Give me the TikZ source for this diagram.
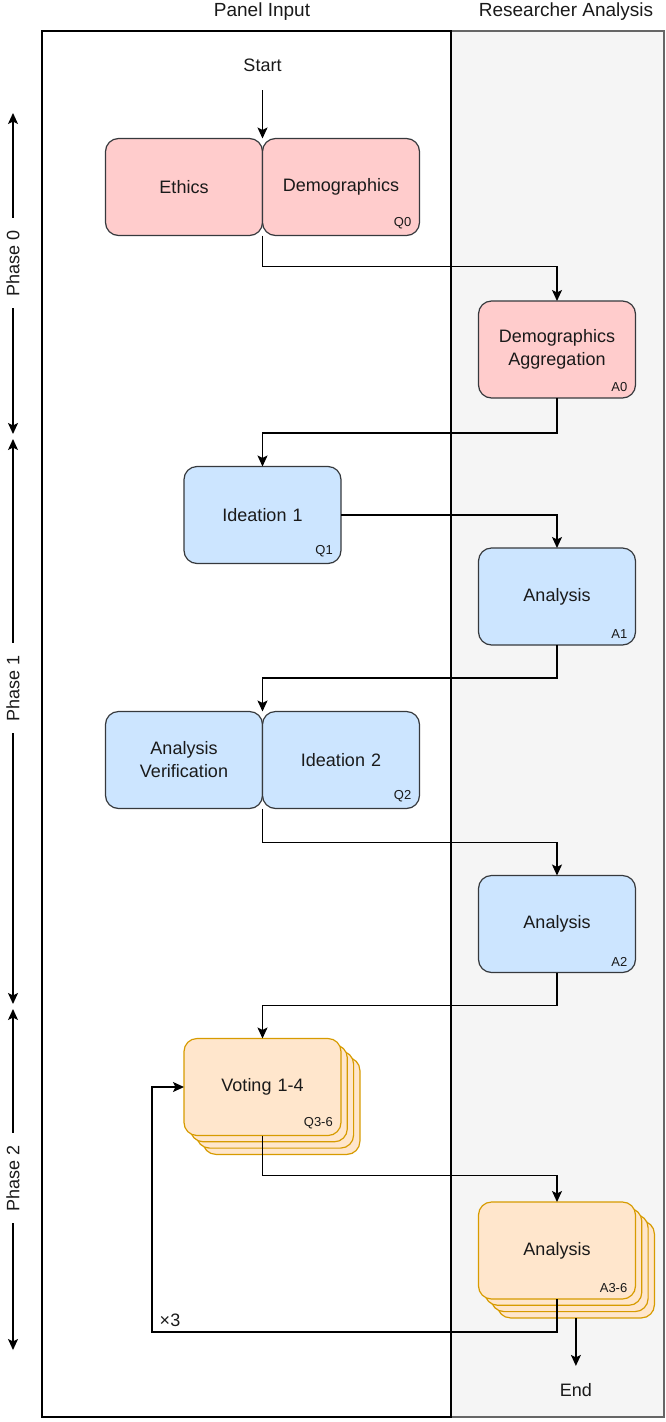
\documentclass[tikz,border=0pt]{standalone}
\usepackage{fontspec}
\setmainfont{Liberation Sans}
\usepackage{xcolor}
\usepackage{tikz}
\usetikzlibrary{arrows.meta,calc,positioning}

\definecolor{pinkfill}{HTML}{FFCCCC}
\definecolor{bluefill}{HTML}{CCE5FF}
\definecolor{orangefill}{HTML}{FFE6CC}
\definecolor{orangeline}{HTML}{D79B00}
\definecolor{boxline}{HTML}{36393D}
\definecolor{lanefill}{HTML}{F5F5F5}
\definecolor{laneline}{HTML}{666666}
\definecolor{txt}{HTML}{1A1A1A}

\begin{document}
\begin{tikzpicture}[x=1pt, y=-1pt, node distance=0pt,
    >={Stealth[length=11pt,width=10pt,inset=2.5pt]},
    every node/.style={font=\fontsize{18}{23}\selectfont, text=txt},
    box/.style={rectangle, draw=boxline, line width=1.2pt, rounded corners=13pt, minimum width=157pt, minimum height=97pt, text width=150pt, align=center, inner sep=0pt, outer sep=0pt},
    pinkbox/.style={box, fill=pinkfill},
    bluebox/.style={box, fill=bluefill},
    orangebox/.style={box, draw=orangeline, fill=orangefill},
    tag/.style={font=\fontsize{13}{15}\selectfont, inner sep=0pt, anchor=south east},
    link/.style={->, line width=1.4pt},
    phase/.style={rotate=90, inner sep=12pt},
    head/.style={font=\fontsize{19}{23}\selectfont}]
    \useasboundingbox (0,0) rectangle (666,1422);

    \draw[fill=lanefill, draw=laneline, line width=1.5pt] (451,31) rectangle (664,1417);
    \draw[line width=1.5pt] (42,31) rectangle (451,1417);
    \node[head] (hpanel) at (262,12) {Panel Input};
    \node[head] (hresearch) at (566,12) {Researcher Analysis};

    \node[minimum height=50pt, inner sep=0pt] (start) at (262.5,65) {Start};
    \node[pinkbox] (ethics) at (184,187) {Ethics};
    \node[pinkbox, right=0pt of ethics] (demo) {Demographics};
    \node[tag] (q0) at ($(demo.south east)+(-8,-6)$) {Q0};
    \node[pinkbox] (aggr) at (557,349.5) {Demographics\\Aggregation};
    \node[tag] (a0) at ($(aggr.south east)+(-8,-6)$) {A0};

    \node[bluebox] (idea1) at (262.5,515) {Ideation 1};
    \node[tag] (q1) at ($(idea1.south east)+(-8,-6)$) {Q1};
    \node[bluebox] (ana1) at (557,596.5) {Analysis};
    \node[tag] (a1) at ($(ana1.south east)+(-8,-6)$) {A1};
    \node[bluebox] (verif) at (184,760) {Analysis\\Verification};
    \node[bluebox, right=0pt of verif] (idea2) {Ideation 2};
    \node[tag] (q2) at ($(idea2.south east)+(-8,-6)$) {Q2};
    \node[bluebox] (ana2) at (557,924) {Analysis};
    \node[tag] (a2) at ($(ana2.south east)+(-8,-6)$) {A2};

    \foreach \k in {3,2,1}
        \node[orangebox] (vote\k) at (262.5+6.3*\k,1087+6.3*\k) {};
    \node[orangebox] (vote) at (262.5,1087) {Voting 1-4};
    \node[tag] (q3) at ($(vote.south east)+(-8,-6)$) {Q3-6};
    \foreach \k in {3,2,1}
        \node[orangebox] (ana3c\k) at (557+6.3*\k,1250.5+6.3*\k) {};
    \node[orangebox] (ana3) at (557,1250.5) {Analysis};
    \node[tag] (a3) at ($(ana3.south east)+(-8,-6)$) {A3-6};
    \node[below=48pt of ana3c3.south, minimum height=48pt, inner sep=0pt] (end) {End};

    \node[phase] (ph0) at (13,263) {Phase 0};
    \node[phase] (ph1) at (13,688) {Phase 1};
    \node[phase] (ph2) at (13,1178) {Phase 2};
    \coordinate (ph0a) at (13,113);
    \coordinate (ph0b) at (13,434);
    \coordinate (ph1a) at (13,439);
    \coordinate (ph1b) at (13,1004);
    \coordinate (ph2a) at (13,1009);
    \coordinate (ph2b) at (13,1350);
    \coordinate (loop) at (152,1332);

    \draw[link] (start) -- (ethics.north east);
    \draw[link] (ethics.south east) -- ++(0,31) -| (aggr);
    \draw[link] (aggr.south) -- ++(0,35) -| (idea1);
    \draw[link] (idea1) -| (ana1);
    \draw[link] (ana1.south) -- ++(0,33) -| (verif.north east);
    \draw[link] (verif.south east) -- ++(0,34) -| (ana2);
    \draw[link] (ana2.south) -- ++(0,33) -| (vote);
    \draw[link] (vote.south) -- ++(0,40) -| (ana3);
    \draw[link] (ana3.south) |- (loop) |- (vote.west);
    \node[inner sep=0pt] (times) at (170,1320) {×3};
    \draw[link] (ana3c3.south) -- (end);

    \draw[link] (ph0) -- (ph0a);
    \draw[link] (ph0) -- (ph0b);
    \draw[link] (ph1) -- (ph1a);
    \draw[link] (ph1) -- (ph1b);
    \draw[link] (ph2) -- (ph2a);
    \draw[link] (ph2) -- (ph2b);
\end{tikzpicture}
\end{document}
